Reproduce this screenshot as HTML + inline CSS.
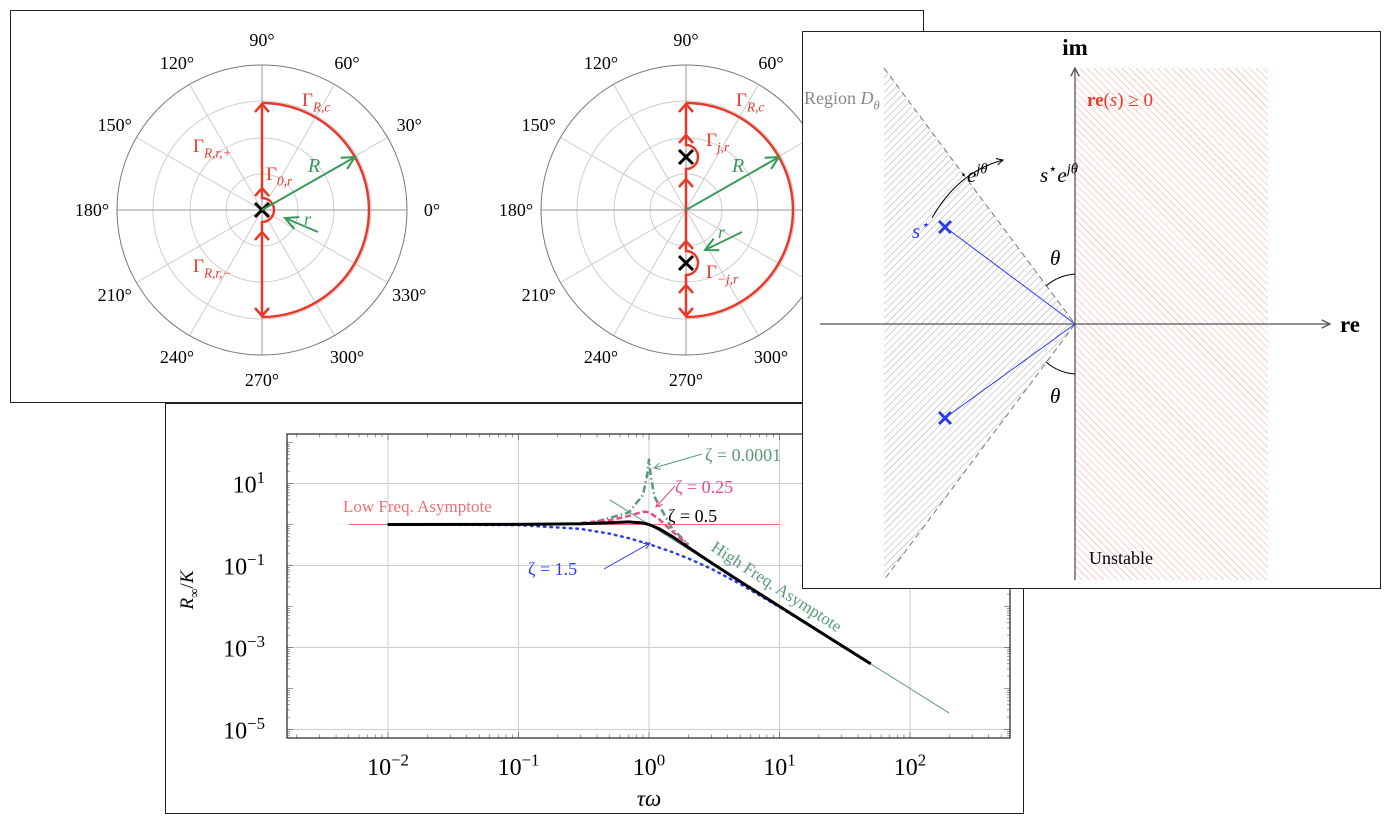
<!DOCTYPE html>
<html><head><meta charset="utf-8"><style>
html,body{margin:0;padding:0;background:#fff}
svg text{font-family:"Liberation Serif",serif}
</style></head><body>
<svg id="s" width="1398" height="828" viewBox="0 0 1398 828" xmlns="http://www.w3.org/2000/svg">
<defs>
<pattern id="hg" width="5" height="5" patternUnits="userSpaceOnUse" patternTransform="rotate(45)"><line x1="0" y1="0" x2="0" y2="5" stroke="#aaa" stroke-width="1"/></pattern>
<pattern id="hr" width="5" height="5" patternUnits="userSpaceOnUse" patternTransform="rotate(-45)"><line x1="0" y1="0" x2="0" y2="5" stroke="#f4a0a0" stroke-width="1"/></pattern>
<marker id="ah" viewBox="0 0 10 10" refX="9" refY="5" markerWidth="8" markerHeight="8" orient="auto-start-reverse"><path d="M1,1 L9,5 L1,9" fill="none" stroke="context-stroke" stroke-width="1.3"/></marker>
</defs>
</svg>
<script>
// ---- Bode chart data ----
const z05x=[0.01,0.1,0.3,0.5,0.7,0.9,1,1.2,1.5,2,3,5,10,20,50];
const z05y=[1,1.005,1.044,1.109,1.155,1.087,1,0.782,0.512,0.277,0.117,0.0408,0.01005,0.0025,0.0004];
const z15x=[0.01,0.1,0.3,0.5,0.7,1,1.5,2,3,5,10,20];
const z15y=[1,0.967,0.781,0.596,0.463,0.333,0.214,0.149,0.083,0.0353,0.00967,0.00248];
const z025x=[0.3,0.5,0.7,0.9,1,1.2,1.5,2];
const z025y=[1.09,1.265,1.616,2.05,2,1.34,0.686,0.316];
const z0x=[0.4,0.7,0.9,0.97,1,1.03,1.1,1.5,2];
const z0y=[1.19,1.96,5.26,16.9,40,16,4.76,0.8,0.333];
const lowX=[0.005,10], lowY=[1,1];
const highX=[0.5,200], highY=[4,0.000025];
const xTicks=[-2,-1,0,1,2];
const yTicks=[1,-1,-3,-5];

const S=document.getElementById('s');
const NS='http://www.w3.org/2000/svg';
function mk(tag,attrs,name,parent,txt){
  const el=document.createElementNS(NS,tag);
  for(const k in attrs)el.setAttribute(k,attrs[k]);
  
  
  if(txt!==undefined)el.textContent=txt;
  (parent||S).appendChild(el);return el;
}
// rich text: parts = [[text, 'sub'|'sup'|'', italic?]]
function rich(x,y,parts,size,fill,name,parent,anchor){
  const t=mk('text',{x:x,y:y,'font-size':size,fill:fill||'#000','text-anchor':anchor||'start'},name,parent);
  let cur=0;
  parts.forEach(p=>{
    const s=document.createElementNS(NS,'tspan');s.textContent=p[0];
    const tgt=p[1]==='sub'?size*0.3:p[1]==='sup'?-size*0.4:0;
    s.setAttribute('dy',tgt-cur);cur=tgt;
    if(p[1])s.setAttribute('font-size',size*0.7);
    if(p[2])s.setAttribute('font-style','italic');
    t.appendChild(s);
  });
  return t;
}
function supText(x,y,base,sup,size,fill,anchor,name,parent){
  return rich(x,y,[[base,''],[sup,'sup']],size,fill,name,parent,anchor);
}
// ===== bottom panel =====
const gB=mk('g',{},'bode-panel');
mk('rect',{x:165.5,y:403.5,width:858,height:410,fill:'#fff',stroke:'#222'},'bode-frame',gB);
const X0=287,X1=1010,Y0=434,Y1=738;
const xs=v=>649+130.5*Math.log10(v);
const ys=v=>524.5-41*Math.log10(v);
xTicks.forEach(d=>{mk('line',{x1:xs(10**d),x2:xs(10**d),y1:Y0,y2:Y1,stroke:'#ccc'},'x-grid-line',gB);});
yTicks.forEach(d=>{mk('line',{x1:X0,x2:X1,y1:ys(10**d),y2:ys(10**d),stroke:'#ccc'},'y-grid-line',gB);});
for(let d=-3;d<=2;d++)for(let m=1;m<10;m++){const x=xs(m*10**d);if(x<X0||x>X1)continue;const L=m==1?6:3.5;
 mk('line',{x1:x,x2:x,y1:Y1,y2:Y1-L,stroke:'#555','stroke-width':0.6},'x-tick',gB);
 mk('line',{x1:x,x2:x,y1:Y0,y2:Y0+L,stroke:'#555','stroke-width':0.6},'x-tick',gB);}
for(let d=-6;d<=2;d++)for(let m=1;m<10;m++){const y=ys(m*10**d);if(y<Y0||y>Y1)continue;const L=m==1?6:3;
 mk('line',{x1:X0,x2:X0+L,y1:y,y2:y,stroke:'#555','stroke-width':0.6},'y-tick',gB);
 mk('line',{x1:X1,x2:X1-L,y1:y,y2:y,stroke:'#555','stroke-width':0.6},'y-tick',gB);}
mk('rect',{x:X0,y:Y0,width:X1-X0,height:Y1-Y0,fill:'none',stroke:'#222','stroke-width':1.2},'plot-area',gB);
xTicks.forEach(d=>supText(xs(10**d),775,'10',d<0?'\u2212'+(-d):String(d),24,'#000','middle','x-tick-label',gB));
yTicks.forEach(d=>supText(265,ys(10**d)+9,'10',d<0?'\u2212'+(-d):String(d),24,'#000','end','y-tick-label',gB));
mk('text',{x:649,y:806,'font-size':23,'font-style':'italic','text-anchor':'middle'},'x-axis-title',gB,'τω');
rich(193,590,[['R','',true],['∞','sub'],['/','',false],['K','',true]],19,'#000','y-axis-title',gB,'middle').setAttribute('transform','rotate(-90 193 590)');
function path(xa,ya){return xa.map((x,i)=>(i?'L':'M')+xs(x).toFixed(1)+','+ys(ya[i]).toFixed(1)).join(' ');}
mk('path',{d:path(lowX,lowY),stroke:'#f07070',fill:'none','stroke-width':1},'low-freq-asymptote',gB);
mk('path',{d:path(highX,highY),stroke:'#5a9a7a',fill:'none','stroke-width':1},'high-freq-asymptote',gB);
mk('path',{d:path(z15x,z15y),stroke:'#2a3cf0',fill:'none','stroke-width':2.5,'stroke-dasharray':'1.5 5','stroke-linecap':'round'},'series-zeta-1.5',gB);
mk('path',{d:path(z0x,z0y),stroke:'#5a9a7a',fill:'none','stroke-width':2.5,'stroke-dasharray':'7 3 1.5 3'},'series-zeta-0.0001',gB);
mk('path',{d:path(z025x,z025y),stroke:'#e84a8a',fill:'none','stroke-width':2.5,'stroke-dasharray':'6 3'},'series-zeta-0.25',gB);
mk('path',{d:path(z05x,z05y),stroke:'#000',fill:'none','stroke-width':3},'series-zeta-0.5',gB);
mk('text',{x:343,y:512,'font-size':17,fill:'#f07070'},'low-freq-label',gB,'Low Freq. Asymptote');
mk('text',{x:710,y:550,'font-size':17,fill:'#5a9a7a',transform:'rotate(33 710 550)'},'high-freq-label',gB,'High Freq. Asymptote');
mk('text',{x:705,y:461,'font-size':18,fill:'#5a9a7a'},'label-zeta-0.0001',gB,'ζ = 0.0001');
mk('line',{x1:702,y1:454,x2:654,y2:468,stroke:'#5a9a7a','marker-end':'url(#ah)'},'arrow-zeta-0.0001',gB);
mk('text',{x:675,y:493,'font-size':18,fill:'#e84a8a'},'label-zeta-0.25',gB,'ζ = 0.25');
mk('line',{x1:675,y1:486,x2:656,y2:507,stroke:'#e84a8a','marker-end':'url(#ah)'},'arrow-zeta-0.25',gB);
mk('text',{x:668,y:522,'font-size':18,fill:'#000'},'label-zeta-0.5',gB,'ζ = 0.5');
mk('text',{x:528,y:575,'font-size':18,fill:'#2a3cf0'},'label-zeta-1.5',gB,'ζ = 1.5');
mk('line',{x1:604,y1:569,x2:650,y2:543,stroke:'#2a3cf0','marker-end':'url(#ah)'},'arrow-zeta-1.5',gB);

// ===== polar panel =====
const gP=mk('g',{},'polar-panel');
mk('rect',{x:10.5,y:10.5,width:913,height:392,fill:'#fff',stroke:'#222'},'polar-frame',gP);
const red='#e8382a',grn='#3a9a5a';
function polar(cx,cy,name){
  const g=mk('g',{},name,gP);
  [36,72,109].forEach(r=>mk('circle',{cx:cx,cy:cy,r:r,fill:'none',stroke:'#ccc'},'polar-grid-circle',g));
  for(let a=0;a<360;a+=30){const t=a*Math.PI/180;
    mk('line',{x1:cx,y1:cy,x2:cx+145*Math.cos(t),y2:cy-145*Math.sin(t),stroke:(a%90==0)?'#999':'#ccc'},'polar-spoke',g);
    mk('text',{x:cx+170*Math.cos(t),y:cy-170*Math.sin(t)+6,'font-size':18,'text-anchor':'middle'},'angle-label',g,a+'°');}
  mk('circle',{cx:cx,cy:cy,r:145,fill:'none',stroke:'#777'},'polar-outer-circle',g);
  mk('path',{d:`M${cx},${cy-107} A107,107 0 0 1 ${cx},${cy+107}`,fill:'none',stroke:red,'stroke-width':2.5},'contour-gamma-rc',g);
  return g;
}
function arrowTip(g,x,y,dir){
  mk('path',{d:`M${x-7},${y+8*dir} L${x},${y} L${x+7},${y+8*dir}`,fill:'none',stroke:red,'stroke-width':2.5},'contour-arrow',g);}
function cross(g,x,y,c,s){mk('path',{d:`M${x-s},${y-s}L${x+s},${y+s}M${x+s},${y-s}L${x-s},${y+s}`,stroke:c,'stroke-width':3},'pole-marker',g);}
let g1=polar(262,210,'polar-plot-1');
mk('path',{d:'M262,103 L262,198 A12,12 0 0 1 262,222 L262,317',fill:'none',stroke:red,'stroke-width':2.5},'contour-imag-axis',g1);
arrowTip(g1,262,104,1);arrowTip(g1,262,188,1);arrowTip(g1,262,232,1);arrowTip(g1,262,316,-1);
cross(g1,262,210,'#000',7);
mk('line',{x1:262,y1:210,x2:355,y2:157,stroke:grn,'stroke-width':2,'marker-end':'url(#ah)'},'radius-R-arrow',g1);
mk('line',{x1:318,y1:232,x2:285,y2:218,stroke:grn,'stroke-width':2,'marker-end':'url(#ah)'},'radius-r-arrow',g1);
mk('text',{x:308,y:172,'font-size':20,'font-style':'italic',fill:grn},'label-R',g1,'R');
mk('text',{x:304,y:225,'font-size':18,'font-style':'italic',fill:grn},'label-r',g1,'r');
rich(302,106,[['Γ',''],['R,c','sub',true]],19,red,'label-gamma-rc',g1);
rich(193,152,[['Γ',''],['R,r,+','sub',true]],19,red,'label-gamma-rr-plus',g1);
rich(266,180,[['Γ',''],['0,r','sub',true]],19,red,'label-gamma-0r',g1);
rich(193,272,[['Γ',''],['R,r,−','sub',true]],19,red,'label-gamma-rr-minus',g1);
let g2=polar(686,210,'polar-plot-2');
mk('path',{d:'M686,103 L686,145 A12,12 0 0 1 686,169 L686,251 A12,12 0 0 1 686,275 L686,317',fill:'none',stroke:red,'stroke-width':2.5},'contour-imag-axis',g2);
arrowTip(g2,686,104,1);arrowTip(g2,686,135,1);arrowTip(g2,686,179,1);arrowTip(g2,686,241,1);arrowTip(g2,686,285,1);arrowTip(g2,686,316,-1);
cross(g2,686,157,'#000',7);cross(g2,686,263,'#000',7);
mk('line',{x1:686,y1:210,x2:779,y2:157,stroke:grn,'stroke-width':2,'marker-end':'url(#ah)'},'radius-R-arrow',g2);
mk('line',{x1:742,y1:232,x2:705,y2:250,stroke:grn,'stroke-width':2,'marker-end':'url(#ah)'},'radius-r-arrow',g2);
mk('text',{x:732,y:172,'font-size':20,'font-style':'italic',fill:grn},'label-R',g2,'R');
mk('text',{x:718,y:238,'font-size':18,'font-style':'italic',fill:grn},'label-r',g2,'r');
rich(736,106,[['Γ',''],['R,c','sub',true]],19,red,'label-gamma-rc',g2);
rich(706,146,[['Γ',''],['j,r','sub',true]],19,red,'label-gamma-jr',g2);
rich(706,278,[['Γ',''],['−j,r','sub',true]],19,red,'label-gamma-minus-jr',g2);

// ===== s-plane panel =====
const gS=mk('g',{},'s-plane-panel');
mk('rect',{x:802.5,y:31.5,width:578,height:557,fill:'#fff',stroke:'#222'},'s-plane-frame',gS);
mk('rect',{x:1075,y:68,width:193,height:512,fill:'url(#hr)'},'unstable-region',gS);
mk('polygon',{points:'884,68 1075,324 884,580',fill:'url(#hg)'},'region-d-theta',gS);
mk('path',{d:'M884,68 L1075,324 L884,580',fill:'none',stroke:'#777','stroke-dasharray':'6 4'},'region-boundary',gS);
mk('line',{x1:820,y1:324,x2:1330,y2:324,stroke:'#555','stroke-width':1.3,'marker-end':'url(#ah)'},'re-axis',gS);
mk('line',{x1:1075,y1:580,x2:1075,y2:68,stroke:'#555','stroke-width':1.3,'marker-end':'url(#ah)'},'im-axis',gS);
mk('text',{x:1340,y:332,'font-size':23,'font-weight':'bold'},'re-axis-label',gS,'re');
mk('text',{x:1075,y:55,'font-size':23,'font-weight':'bold','text-anchor':'middle'},'im-axis-label',gS,'im');
rich(804,104,[['Region ',''],['D','',true],['θ','sub',true]],18,'#888','region-label',gS);
const uc=rich(1087,106,[['re','',false],['(',''],['s','',true],[') ≥ 0','']],19,red,'unstable-condition-label',gS);
uc.firstChild.setAttribute('font-weight','bold');
mk('text',{x:1089,y:564,'font-size':18},'unstable-label',gS,'Unstable');
mk('line',{x1:1075,y1:324,x2:945,y2:227,stroke:'#2a3cf0'},'pole-vector-upper',gS);
mk('line',{x1:1075,y1:324,x2:945,y2:418,stroke:'#2a3cf0'},'pole-vector-lower',gS);
cross(gS,945,227,'#2a3cf0',6);cross(gS,945,418,'#2a3cf0',6);
rich(912,238,[['s',''],['⋆','sup']],21,'#2a3cf0','s-star-label',gS).setAttribute('font-style','italic');
mk('path',{d:'M932,218 Q958,172 1003,160',fill:'none',stroke:'#000','marker-end':'url(#ah)'},'rotation-arrow',gS);
rich(960,182,[['·',''],['e','',true],['jθ','sup',true]],21,'#000','rotation-label',gS);
rich(1040,182,[['s','',true],['⋆','sup'],['e','',true],['jθ','sup',true]],21,'#000','rotated-pole-label',gS);
mk('path',{d:'M1046,286 A50,50 0 0 1 1075,274',fill:'none',stroke:'#000'},'theta-arc-upper',gS);
mk('path',{d:'M1046,362 A50,50 0 0 0 1075,374',fill:'none',stroke:'#000'},'theta-arc-lower',gS);
mk('text',{x:1050,y:265,'font-size':21,'font-style':'italic'},'theta-label-upper',gS,'θ');
mk('text',{x:1050,y:403,'font-size':21,'font-style':'italic'},'theta-label-lower',gS,'θ');
</script>
</body></html>
